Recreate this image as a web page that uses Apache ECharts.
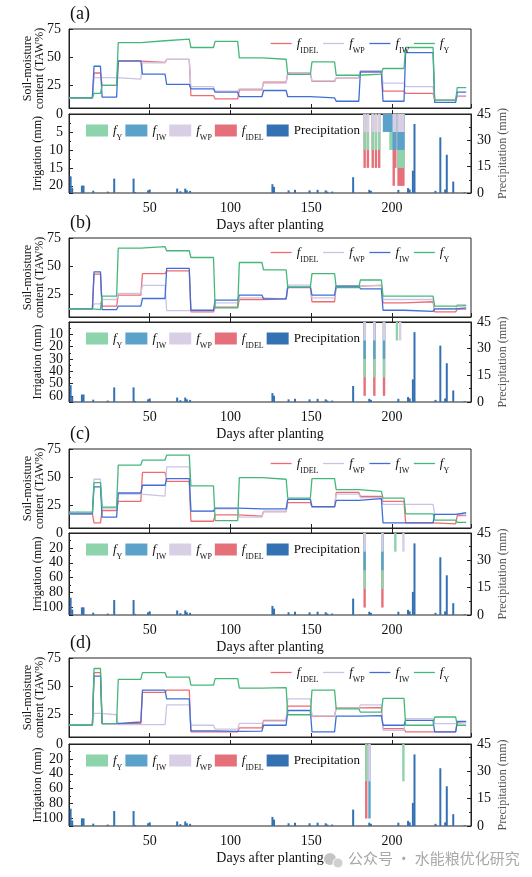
<!DOCTYPE html>
<html>
<head>
<meta charset="utf-8">
<script src="https://cdn.jsdelivr.net/npm/echarts@6/dist/echarts.min.js"></script>
<style>
  html, body { margin: 0; background: #fff; }
  #main { width: 532px; height: 877px; }
</style>
</head>
<body>
<div id="main"></div>
<script>
// start day of each management period (soil-moisture curves are stepwise)
const segStart = [0, 15, 20, 30, 45, 60, 75, 90, 105, 120, 135, 150, 165, 180, 194, 208, 226, 240];
const lastDay = 246;

// soil-moisture content (TAW%) per period
// (a)
const a_IDEL = [14, 36, 25, 46.5, 45.5, 48, 16, 13, 21, 28, 36, 28.6, 31.8, 37, 20, 18, 12, 15.5];
const a_WP   = [14, 32, 32, 30.5, 45, 48, 24, 20, 22, 27, 36, 29, 32, 38, 27, 24, 12, 16];
const a_IW   = [14, 42, 14.6, 46.7, 35, 26, 22, 19, 15, 20.5, 15, 14, 11, 37, 11, 54, 10, 19];
const a_Y    = [14, 18, 25, 63, 64.6, 66, 58.6, 64, 49.4, 48.2, 34.8, 45.8, 34, 35, 40, 58.6, 12, 23];
// (b)
const b_IDEL = [12.2, 43, 14.6, 24.4, 43.5, 45.8, 9.5, 13.7, 20.5, 21, 31, 18.5, 32.4, 33, 17.6, 18.5, 9.5, 12];
const b_WP   = [12.2, 16.7, 20.5, 26, 33, 10.7, 10.7, 17.6, 22, 21, 33.3, 22, 32.4, 33.3, 20.5, 20.5, 12, 16];
const b_IW   = [12.2, 45, 11.6, 14.6, 21.4, 48, 11, 20, 24.4, 21, 31.5, 24.4, 32.4, 30, 11, 10, 12.2, 13];
const b_Y    = [12.2, 11.6, 23.5, 66, 67.3, 63.7, 57.7, 13, 53.3, 46.7, 31.5, 43.5, 31, 37.8, 23.5, 23.5, 14.6, 15];
// (c)
const c_IDEL = [17.6, 9.5, 20.5, 28.6, 54.2, 46.4, 11, 16.7, 15.5, 19.6, 27.4, 23.5, 36.5, 33, 28.6, 9.5, 8.6, 16];
const c_WP   = [17.6, 48.2, 22.6, 35, 33.3, 59.2, 20, 22, 14.6, 19.6, 30.4, 23.5, 35, 32, 26, 26, 17, 16.7];
const c_IW   = [17.6, 41.4, 14.6, 36, 42.9, 48.8, 20, 22.6, 22, 22, 30.4, 24, 29.5, 31, 9.5, 9.5, 17, 18.5];
const c_Y    = [19, 45.2, 23.5, 60.7, 65.2, 69.6, 42.3, 11.6, 49.7, 48.2, 31.5, 48.8, 39, 37.5, 31.5, 17.6, 12, 10];
// (d)
const d_IDEL = [15.4, 62, 16.9, 17, 44.5, 46.5, 9.6, 9.6, 13, 19.8, 32.3, 23.5, 30.8, 31, 12.5, 9.6, 9.6, 17.7];
const d_WP   = [15.4, 26, 24.7, 16, 16, 33.4, 15.4, 12, 17, 19, 38.7, 24, 30.5, 33.4, 11, 21.2, 16.9, 18];
const d_IW   = [15.4, 59, 16.9, 18.3, 46.5, 38.7, 10.5, 10, 10.2, 15.4, 28.5, 9.6, 23.5, 24, 15.4, 19.8, 9.6, 18.9];
const d_Y    = [15.4, 65.7, 16.9, 56, 62, 58, 51, 56.7, 48.3, 48.8, 24.7, 46.5, 30, 27, 39.2, 15.4, 22.7, 15.4];

// precipitation (mm), same in every panel
const precipDays = [1, 2, 8, 9, 15, 24, 28, 40, 41, 49, 50, 67, 69, 72, 73, 75, 126, 127, 136, 140, 149, 154, 159, 160, 163, 176, 186, 187, 204, 210, 211, 213, 214, 227, 230, 233, 234, 238, 245];
const precipMm   = [9.5, 3, 4.2, 4.2, 1.3, 0.8, 8.2, 8.2, 0.6, 1.5, 2, 2.5, 1, 2.5, 1.5, 1.2, 5, 3.5, 1.5, 1.8, 1.5, 1.8, 1.5, 0.8, 0.8, 9, 1.8, 1.2, 1.8, 2.8, 2, 12.7, 39.3, 1.2, 31.7, 2, 21.8, 6.5, 0.5];

// irrigation (mm) by strategy
const irrDays_a = [183, 185, 188, 190, 192, 195, 196, 197, 198, 199, 200, 201, 202, 204, 205, 206, 207];
const irrWP_a   = [5, 5, 5, 5, 5, 0, 0, 0, 0, 0, 0, 5, 5, 5, 5, 5, 5];
const irrIW_a   = [0, 0, 0, 0, 0, 5, 5, 5, 5, 5, 5, 5, 5, 5, 5, 5, 5];
const irrY_a    = [5, 5, 5, 5, 5, 0, 0, 0, 0, 5, 5, 0, 0, 5, 5, 5, 5];
const irrIDEL_a = [5, 5, 5, 5, 5, 0, 0, 0, 0, 0, 0, 10, 5, 5, 5, 5, 5];

const irrDays_b = [183, 189, 195, 203, 205];
const irrWP_b   = [15, 15, 15, 0, 15];
const irrIW_b   = [15, 15, 15, 0, 0];
const irrY_b    = [15, 15, 15, 15, 0];
const irrIDEL_b = [15, 15, 15, 0, 0];

const irrDays_c = [183, 194, 202, 207];
const irrWP_c   = [25, 25, 0, 25];
const irrIW_c   = [25, 25, 0, 0];
const irrY_c    = [25, 25, 25, 0];
const irrIDEL_c = [25, 25, 0, 0];

const irrDays_d = [184, 186, 207];
const irrWP_d   = [0, 50, 0];
const irrIW_d   = [0, 50, 0];
const irrY_d    = [50, 0, 50];
const irrIDEL_d = [50, 0, 0];

const panels = [
  { tag: '(a)', sm: [a_IDEL, a_WP, a_IW, a_Y], irr: [irrDays_a, irrWP_a, irrIW_a, irrY_a, irrIDEL_a], top: 29, low: 114, lowH: 79, irrMax: 22, irrStep: 5 },
  { tag: '(b)', sm: [b_IDEL, b_WP, b_IW, b_Y], irr: [irrDays_b, irrWP_b, irrIW_b, irrY_b, irrIDEL_b], top: 238, low: 322, lowH: 80, irrMax: 65, irrStep: 10 },
  { tag: '(c)', sm: [c_IDEL, c_WP, c_IW, c_Y], irr: [irrDays_c, irrWP_c, irrIW_c, irrY_c, irrIDEL_c], top: 449, low: 533, lowH: 82, irrMax: 110, irrStep: 20 },
  { tag: '(d)', sm: [d_IDEL, d_WP, d_IW, d_Y], irr: [irrDays_d, irrWP_d, irrIW_d, irrY_d, irrIDEL_d], top: 658, low: 744, lowH: 82, irrMax: 110, irrStep: 20 }
];

const lineNames = ['fIDEL', 'fWP', 'fIW', 'fY'];
const lineColors = ['#ef6b70', '#cbc3e3', '#3f6fd6', '#45b879'];
const barColors = { iY: '#8dd3ac', iIW: '#5ba2cb', iWP: '#d8cfe5', iIDEL: '#e5707a', Precipitation: '#3471b3' };
const subText = { fIDEL: 'IDEL', fWP: 'WP', fIW: 'IW', fY: 'Y', iIDEL: 'IDEL', iWP: 'WP', iIW: 'IW', iY: 'Y' };

const FONT = 'Liberation Serif';
const AXC = '#222';

function stepPoints(vals) {
  const pts = [];
  for (let i = 0; i < vals.length; i++) {
    const s = segStart[i];
    const e = i + 1 < vals.length ? segStart[i + 1] : lastDay;
    pts.push([i === 0 ? s : s + 0.5, vals[i]]);
    pts.push([i === vals.length - 1 ? e : e - 0.5, vals[i]]);
  }
  return pts;
}

const rich = {
  f: { fontFamily: FONT, fontStyle: 'italic', fontSize: 13, color: '#111', lineHeight: 16 },
  s: { fontFamily: FONT, fontSize: 8, color: '#111', verticalAlign: 'bottom', lineHeight: 16, padding: [0, 0, -3, 0] },
  p: { fontFamily: FONT, fontSize: 13, color: '#111' }
};
function legendFmt(name) {
  if (name === 'Precipitation') return '{p|Precipitation}';
  return '{f|f}{s|' + subText[name] + '}';
}

const grid = [], xAxis = [], yAxis = [], series = [], legend = [], graphic = [];

panels.forEach((p, k) => {
  const gTop = grid.length, gLow = grid.length + 1;
  grid.push({ left: 69, width: 402, top: p.top, height: 79, show: true, borderColor: AXC, borderWidth: 1 });
  grid.push({ left: 69, width: 402, top: p.low, height: p.lowH, show: true, borderColor: AXC, borderWidth: 1 });

  const xBase = {
    type: 'value', min: 0, max: 249, interval: 50,
    axisLine: { lineStyle: { color: AXC } },
    axisTick: { inside: true, length: 4, lineStyle: { color: AXC } },
    splitLine: { show: false }
  };
  xAxis.push(Object.assign({}, xBase, { gridIndex: gTop, axisLabel: { show: false } }));
  xAxis.push(Object.assign({}, xBase, {
    gridIndex: gLow,
    axisLabel: { showMinLabel: false, showMaxLabel: false, fontFamily: FONT, fontSize: 14, color: '#111', margin: 8 },
    name: 'Days after planting', nameLocation: 'middle', nameGap: 25, nameMoveOverlap: false,
    nameTextStyle: { fontFamily: FONT, fontSize: 14, color: '#111' }
  }));

  const ySm = yAxis.length;
  yAxis.push({
    type: 'value', gridIndex: gTop, min: 5, max: 75,
    axisLine: { show: true, lineStyle: { color: AXC } },
    axisTick: { inside: true, length: 4, customValues: [25, 50, 75], lineStyle: { color: AXC } },
    axisLabel: { customValues: [25, 50, 75], fontFamily: FONT, fontSize: 14, color: '#111', margin: 8 },
    splitLine: { show: false },
    name: 'Soil-moisture\ncontent (TAW%)', nameLocation: 'middle', nameGap: 23, nameMoveOverlap: false,
    nameTextStyle: { fontFamily: FONT, fontSize: 12, color: '#111', lineHeight: 12 }
  });
  const yIrr = yAxis.length;
  yAxis.push({
    type: 'value', gridIndex: gLow, min: 0, max: p.irrMax, interval: p.irrStep, inverse: true,
    axisLine: { show: true, lineStyle: { color: AXC } },
    axisTick: { inside: true, length: 4, lineStyle: { color: AXC } },
    minorTick: { show: true, splitNumber: 2, length: 2, lineStyle: { color: AXC } },
    axisLabel: { showMaxLabel: false, fontFamily: FONT, fontSize: 14, color: '#111', margin: 6 },
    splitLine: { show: false },
    name: 'Irrigation (mm)', nameLocation: 'middle', nameGap: 25, nameMoveOverlap: false,
    nameTextStyle: { fontFamily: FONT, fontSize: 12, color: '#111' }
  });
  const yPre = yAxis.length;
  yAxis.push({
    type: 'value', gridIndex: gLow, min: 0, max: 45, interval: 15, position: 'right',
    axisLine: { show: true, lineStyle: { color: AXC } },
    axisTick: { inside: true, length: 4, lineStyle: { color: AXC } },
    minorTick: { show: true, splitNumber: 2, length: 2, lineStyle: { color: AXC } },
    axisLabel: { fontFamily: FONT, fontSize: 14, color: '#111', margin: 6 },
    splitLine: { show: false },
    name: 'Precipitation (mm)', nameLocation: 'middle', nameGap: 26, nameRotate: 90, nameMoveOverlap: false,
    nameTextStyle: { fontFamily: FONT, fontSize: 12, color: '#555' }
  });

  // soil-moisture step curves
  p.sm.forEach((vals, i) => {
    series.push({
      type: 'line', name: lineNames[i], xAxisIndex: gTop, yAxisIndex: ySm,
      data: stepPoints(vals), symbol: 'none', silent: true,
      lineStyle: { width: 1.3, color: lineColors[i] }, itemStyle: { color: lineColors[i] }
    });
  });

  // irrigation bars, drawn as cumulative layers hanging from 0 (axis is inverted)
  const [days, wp, iw, y, idel] = p.irr;
  const layer = (amount, below) => days.map((d, j) => amount[j] > 0 ? [d, below[j] + amount[j]] : null).filter(Boolean);
  const zero = days.map(() => 0);
  const cumWP = wp.slice();
  const cumIW = wp.map((v, j) => v + iw[j]);
  const cumY = cumIW.map((v, j) => v + y[j]);
  const barBase = { type: 'bar', xAxisIndex: gLow, yAxisIndex: yIrr, barWidth: 2.4, barGap: '-100%', silent: true };
  series.push(Object.assign({ name: 'iIDEL', data: layer(idel, cumY), itemStyle: { color: barColors.iIDEL } }, barBase));
  series.push(Object.assign({ name: 'iY', data: layer(y, cumIW), itemStyle: { color: barColors.iY } }, barBase));
  series.push(Object.assign({ name: 'iIW', data: layer(iw, cumWP), itemStyle: { color: barColors.iIW } }, barBase));
  series.push(Object.assign({ name: 'iWP', data: layer(wp, zero), itemStyle: { color: barColors.iWP } }, barBase));

  series.push({
    type: 'bar', name: 'Precipitation', xAxisIndex: gLow, yAxisIndex: yPre, barWidth: 2, barGap: '-100%', silent: true,
    data: precipDays.map((d, j) => [d, precipMm[j]]), itemStyle: { color: barColors.Precipitation }
  });

  legend.push({
    left: 265, top: p.top + 3, orient: 'horizontal', itemWidth: 21, itemHeight: 10, itemGap: 4,
    data: lineNames, formatter: legendFmt, selectedMode: false,
    itemStyle: { opacity: 0 }, lineStyle: { width: 1.3 },
    textStyle: { rich: rich }
  });
  legend.push({
    left: 81, top: p.low + 5, orient: 'horizontal', itemWidth: 22, itemHeight: 12, itemGap: 3,
    data: ['iY', 'iIW', 'iWP', 'iIDEL', 'Precipitation'].map(n => ({ name: n, icon: 'rect' })),
    formatter: legendFmt, selectedMode: false,
    textStyle: { rich: rich }
  });

  graphic.push({
    type: 'text', left: 70, top: p.top - 24,
    style: { text: p.tag, font: '18px "Liberation Serif"', fill: '#111' }
  });
});

// watermark
graphic.push({ type: 'circle', shape: { cx: 330, cy: 859, r: 6 }, style: { fill: '#c4c4c4' } });
graphic.push({ type: 'circle', shape: { cx: 338, cy: 863, r: 5 }, style: { fill: '#d0d0d0', stroke: '#fff', lineWidth: 1 } });
graphic.push({
  type: 'text', left: 348, top: 851,
  style: { text: '公众号 · 水能粮优化研究', font: '15px "Noto Sans CJK SC"', fill: '#a8a8a8' }
});

const chart = echarts.init(document.getElementById('main'), null, { renderer: 'canvas' });
chart.setOption({
  animation: false,
  backgroundColor: '#fff',
  grid: grid, xAxis: xAxis, yAxis: yAxis, series: series, legend: legend, graphic: graphic
});
</script>
</body>
</html>
